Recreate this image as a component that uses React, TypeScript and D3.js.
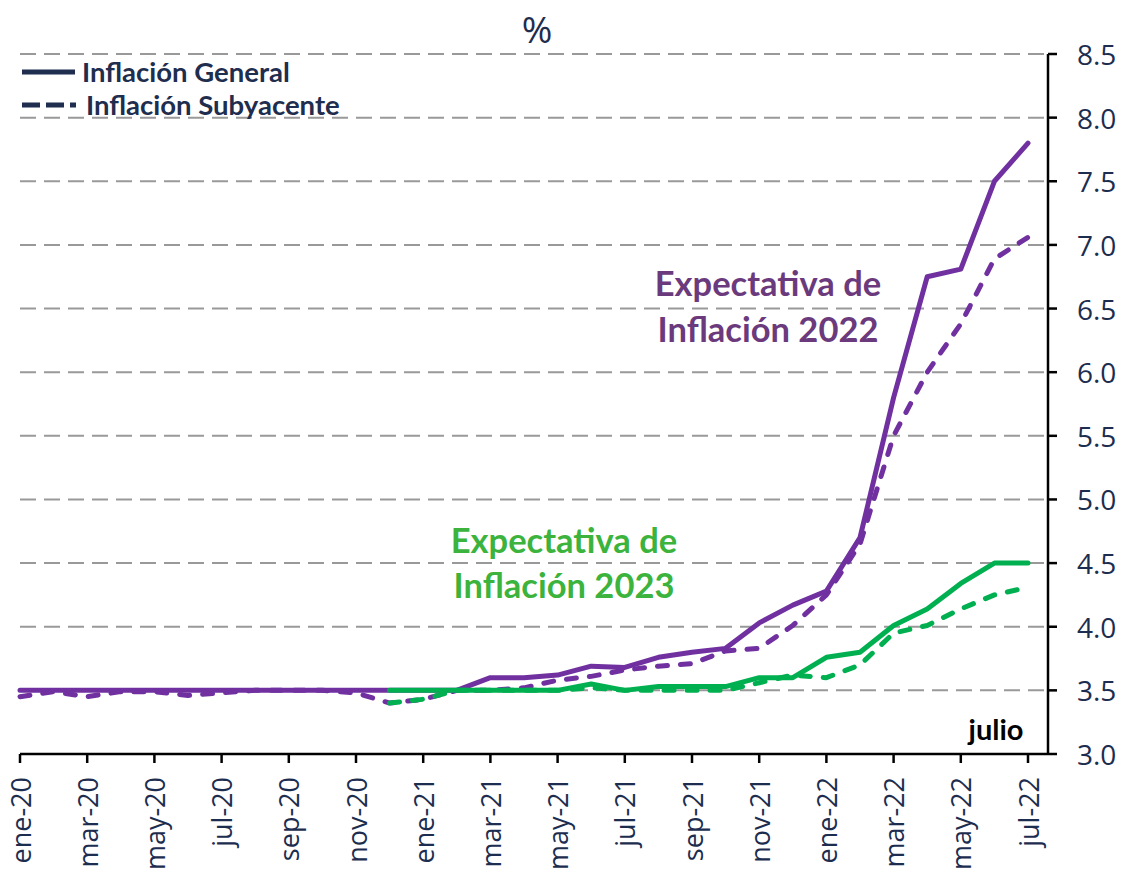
import React from "react";
import * as d3 from "d3";

const months: string[] = [
  "ene-20","feb-20","mar-20","abr-20","may-20","jun-20","jul-20","ago-20","sep-20","oct-20","nov-20","dic-20",
  "ene-21","feb-21","mar-21","abr-21","may-21","jun-21","jul-21","ago-21","sep-21","oct-21","nov-21","dic-21",
  "ene-22","feb-22","mar-22","abr-22","may-22","jun-22","jul-22",
];

const tickLabels: string[] = [
  "ene-20","mar-20","may-20","jul-20","sep-20","nov-20","ene-21","mar-21",
  "may-21","jul-21","sep-21","nov-21","ene-22","mar-22","may-22","jul-22",
];

const yTicks: number[] = [3.0, 3.5, 4.0, 4.5, 5.0, 5.5, 6.0, 6.5, 7.0, 7.5, 8.0, 8.5];

// Expectativa de Inflación 2022
const general2022: (number | null)[] = [
  3.5, 3.5, 3.5, 3.5, 3.5, 3.5, 3.5, 3.5, 3.5, 3.5, 3.5, 3.5,
  3.5, 3.5, 3.60, 3.60, 3.62, 3.69, 3.68, 3.76, 3.80, 3.83, 4.03, 4.17,
  4.28, 4.70, 5.80, 6.75, 6.81, 7.50, 7.80,
];
const core2022: (number | null)[] = [
  3.45, 3.49, 3.45, 3.49, 3.49, 3.46, 3.48, 3.50, 3.50, 3.50, 3.48, 3.40,
  3.43, 3.50, 3.50, 3.52, 3.58, 3.61, 3.66, 3.69, 3.71, 3.81, 3.83, 4.01,
  4.25, 4.65, 5.50, 6.00, 6.38, 6.89, 7.06,
];
// Expectativa de Inflación 2023
const general2023: (number | null)[] = [
  null, null, null, null, null, null, null, null, null, null, null, 3.5,
  3.5, 3.5, 3.5, 3.5, 3.5, 3.55, 3.50, 3.53, 3.53, 3.53, 3.60, 3.60,
  3.76, 3.80, 4.01, 4.14, 4.34, 4.50, 4.50,
];
const core2023: (number | null)[] = [
  null, null, null, null, null, null, null, null, null, null, null, 3.40,
  3.43, 3.50, 3.50, 3.50, 3.50, 3.52, 3.50, 3.50, 3.50, 3.50, 3.56, 3.62,
  3.60, 3.70, 3.95, 4.01, 4.14, 4.25, 4.31,
];

const PURPLE = "#7030a0";
const GREEN = "#00b050";
const NAVY = "#1f2d4e";
const LABEL = "#1c2d4f";
const CAL = "Lato, 'Open Sans', sans-serif";
const AX = "'Open Sans', 'Noto Sans', sans-serif";

export default function App() {
  const W = 1122, H = 875;
  const x = d3.scalePoint<string>().domain(months).range([20, 1028]);
  const y = d3.scaleLinear().domain([3, 8.5]).range([754, 54]);
  const axisRight = 1048;

  const line = d3
    .line<number | null>()
    .defined((d) => d !== null)
    .x((_, i) => x(months[i]) as number)
    .y((d) => y(d as number));

  const series = [
    { data: core2022, color: PURPLE, dash: true },
    { data: general2022, color: PURPLE, dash: false },
    { data: core2023, color: GREEN, dash: true },
    { data: general2023, color: GREEN, dash: false },
  ];

  return (
    <svg width={W} height={H} style={{ position: "absolute", left: 0, top: 0, background: "#fff" }}>
      {/* gridlines */}
      {yTicks.filter((t) => t > 3).map((t) => (
        <line key={"g" + t} x1={20} x2={axisRight} y1={y(t)} y2={y(t)}
          stroke="#999999" strokeWidth={2} strokeDasharray="16,8" />
      ))}

      {/* series */}
      {series.map((s, i) => (
        <path key={i} d={line(s.data) || ""} fill="none" stroke={s.color} strokeWidth={5}
          strokeLinejoin="round" strokeLinecap="round"
          strokeDasharray={s.dash ? "10,13" : undefined} />
      ))}

      {/* x axis */}
      <line x1={20} x2={axisRight} y1={y(3)} y2={y(3)} stroke="#000" strokeWidth={2.5} />
      {tickLabels.map((lab) => {
        const xp = x(lab) as number;
        return (
          <g key={lab}>
            <line x1={xp} x2={xp} y1={y(3)} y2={y(3) + 9} stroke="#000" strokeWidth={2.5} />
            <text transform={`translate(${xp},${y(3) + 23}) rotate(-90)`} textAnchor="end"
              dominantBaseline="central" fontFamily={AX} fontSize={27} fill={LABEL}>{lab}</text>
          </g>
        );
      })}

      {/* y axis */}
      <line x1={axisRight} x2={axisRight} y1={y(8.5)} y2={y(3)} stroke="#000" strokeWidth={2.5} />
      {yTicks.map((t) => (
        <g key={"y" + t}>
          <line x1={axisRight} x2={axisRight + 9} y1={y(t)} y2={y(t)} stroke="#000" strokeWidth={2.5} />
          <text x={axisRight + 29} y={y(t)} dominantBaseline="central" fontFamily={AX}
            fontSize={28} fill={LABEL}>{t.toFixed(1)}</text>
        </g>
      ))}

      {/* title */}
      <text x={537} y={28} textAnchor="middle" dominantBaseline="central" fontFamily={AX}
        fontSize={37} fill={NAVY}>%</text>

      {/* legend */}
      <line x1={22} x2={75} y1={72} y2={72} stroke={NAVY} strokeWidth={5} />
      <text x={82} y={71} dominantBaseline="central" fontFamily={CAL} fontWeight={700}
        fontSize={27.5} fill={NAVY}>Inflación General</text>
      <line x1={22} x2={76} y1={105} y2={105} stroke={NAVY} strokeWidth={5} strokeDasharray="18,6" />
      <text x={86} y={104} dominantBaseline="central" fontFamily={CAL} fontWeight={700}
        fontSize={27.5} fill={NAVY}>Inflación Subyacente</text>

      {/* annotations */}
      <text x={768} y={296} textAnchor="middle" fontFamily={CAL} fontWeight={700}
        fontSize={34.5} fill="#6b3a7d">Expectativa de</text>
      <text x={768} y={342} textAnchor="middle" fontFamily={CAL} fontWeight={700}
        fontSize={34.5} fill="#6b3a7d">Inflación 2022</text>
      <text x={564} y={553} textAnchor="middle" fontFamily={CAL} fontWeight={700}
        fontSize={34.5} fill="#3cb33c">Expectativa de</text>
      <text x={564} y={598} textAnchor="middle" fontFamily={CAL} fontWeight={700}
        fontSize={34.5} fill="#3cb33c">Inflación 2023</text>
      <text x={996} y={740} textAnchor="middle" fontFamily={CAL} fontWeight={700}
        fontSize={29} fill="#000">julio</text>
    </svg>
  );
}
